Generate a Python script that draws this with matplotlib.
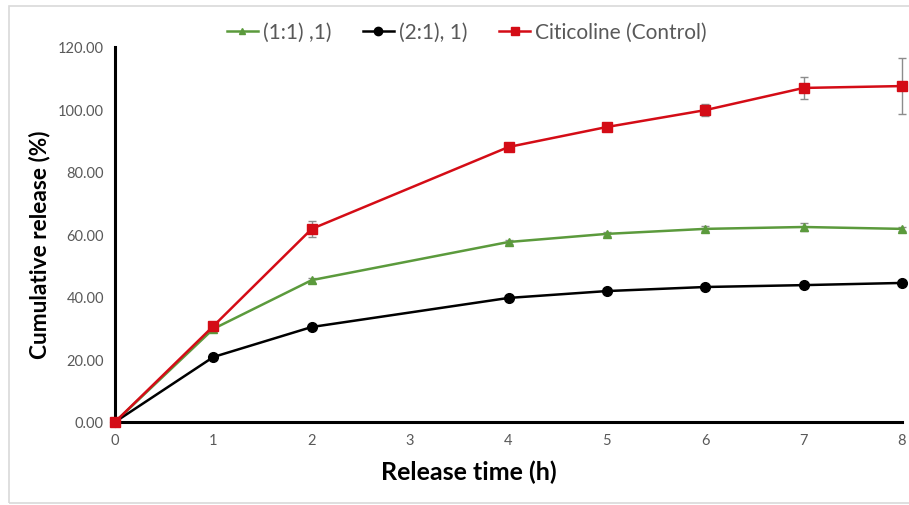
import matplotlib
matplotlib.use("Agg")
import matplotlib.pyplot as plt
from matplotlib.patches import Rectangle
from matplotlib.lines import Line2D

# Release profile data
time_h = [0, 1, 2, 4, 5, 6, 7, 8]
ratio_11 = [0.0, 29.8, 45.4, 57.6, 60.2, 61.8, 62.4, 61.8]
ratio_11_err = [0.0, 0.5, 0.8, 0.6, 0.6, 0.8, 1.2, 0.6]
ratio_21 = [0.0, 20.8, 30.4, 39.7, 41.9, 43.2, 43.8, 44.5]
ratio_21_err = [0.0, 0.4, 0.5, 0.5, 0.4, 0.4, 0.5, 0.5]
control = [0.0, 30.7, 61.8, 88.0, 94.4, 99.8, 106.9, 107.5]
control_err = [0.0, 0.8, 2.5, 0.8, 0.8, 2.0, 3.5, 9.0]

labels = ["(1:1) ,1)", "(2:1), 1)", "Citicoline (Control)"]
x_ticks = [0, 1, 2, 3, 4, 5, 6, 7, 8]
y_ticks = [0, 20, 40, 60, 80, 100, 120]

plt.rcParams['font.family'] = ['Lato', 'DejaVu Sans']

W, H = 909, 506
fig = plt.figure(figsize=(W / 100, H / 100), dpi=100)
fig.patches.append(Rectangle((9 / W, 2 / H), 1.2, (497 / H), transform=fig.transFigure,
                             fill=False, edgecolor="#d9d9d9", linewidth=1.2))

ax = fig.add_axes([115 / W, (H - 423) / H, (902 - 115) / W, (423 - 48) / H])

series = [
    (ratio_11, ratio_11_err, "#5b9a3c", "^", 6),
    (ratio_21, ratio_21_err, "#000000", "o", 7),
    (control, control_err, "#d40c16", "s", 7),
]
err_kw = dict(ecolor="#8c8c8c", elinewidth=1.0, capsize=3, capthick=1.0)
handles = []
for (vals, errs, col, mk, ms), lab, z in zip(series, labels, (3, 3, 4)):
    ax.errorbar(time_h, vals, yerr=errs, color=col, marker=mk, markersize=ms,
                linewidth=1.8, clip_on=False, zorder=z, **err_kw)
    handles.append(Line2D([], [], color=col, marker=mk, markersize=ms - 1,
                          linewidth=1.8, label=lab))

ax.set_xlim(0, 8)
ax.set_ylim(0, 120)
ax.set_xticks(x_ticks)
ax.set_yticks(y_ticks)
ax.set_yticklabels([f"{v:.2f}" for v in y_ticks])
ax.tick_params(length=0, labelsize=10.5, colors="#595959", pad=8)

for side in ("top", "right"):
    ax.spines[side].set_visible(False)
for side in ("left", "bottom"):
    ax.spines[side].set_linewidth(2.2)
    ax.spines[side].set_color("black")

ax.set_xlabel("Release time (h)", fontsize=18, fontweight="bold")
ax.xaxis.set_label_coords(0.45, -0.10)
ax.set_ylabel("Cumulative release (%)", fontsize=16.3, fontweight="bold")
ax.yaxis.set_label_coords(-0.082, 0.475)

ax.legend(handles=handles, loc="center", bbox_to_anchor=(0.447, 1.04), ncol=3,
          frameon=False, fontsize=15, handlelength=1.5, handletextpad=0.25,
          columnspacing=1.5, labelcolor="#595959")

fig.savefig("out.png", dpi=100)
